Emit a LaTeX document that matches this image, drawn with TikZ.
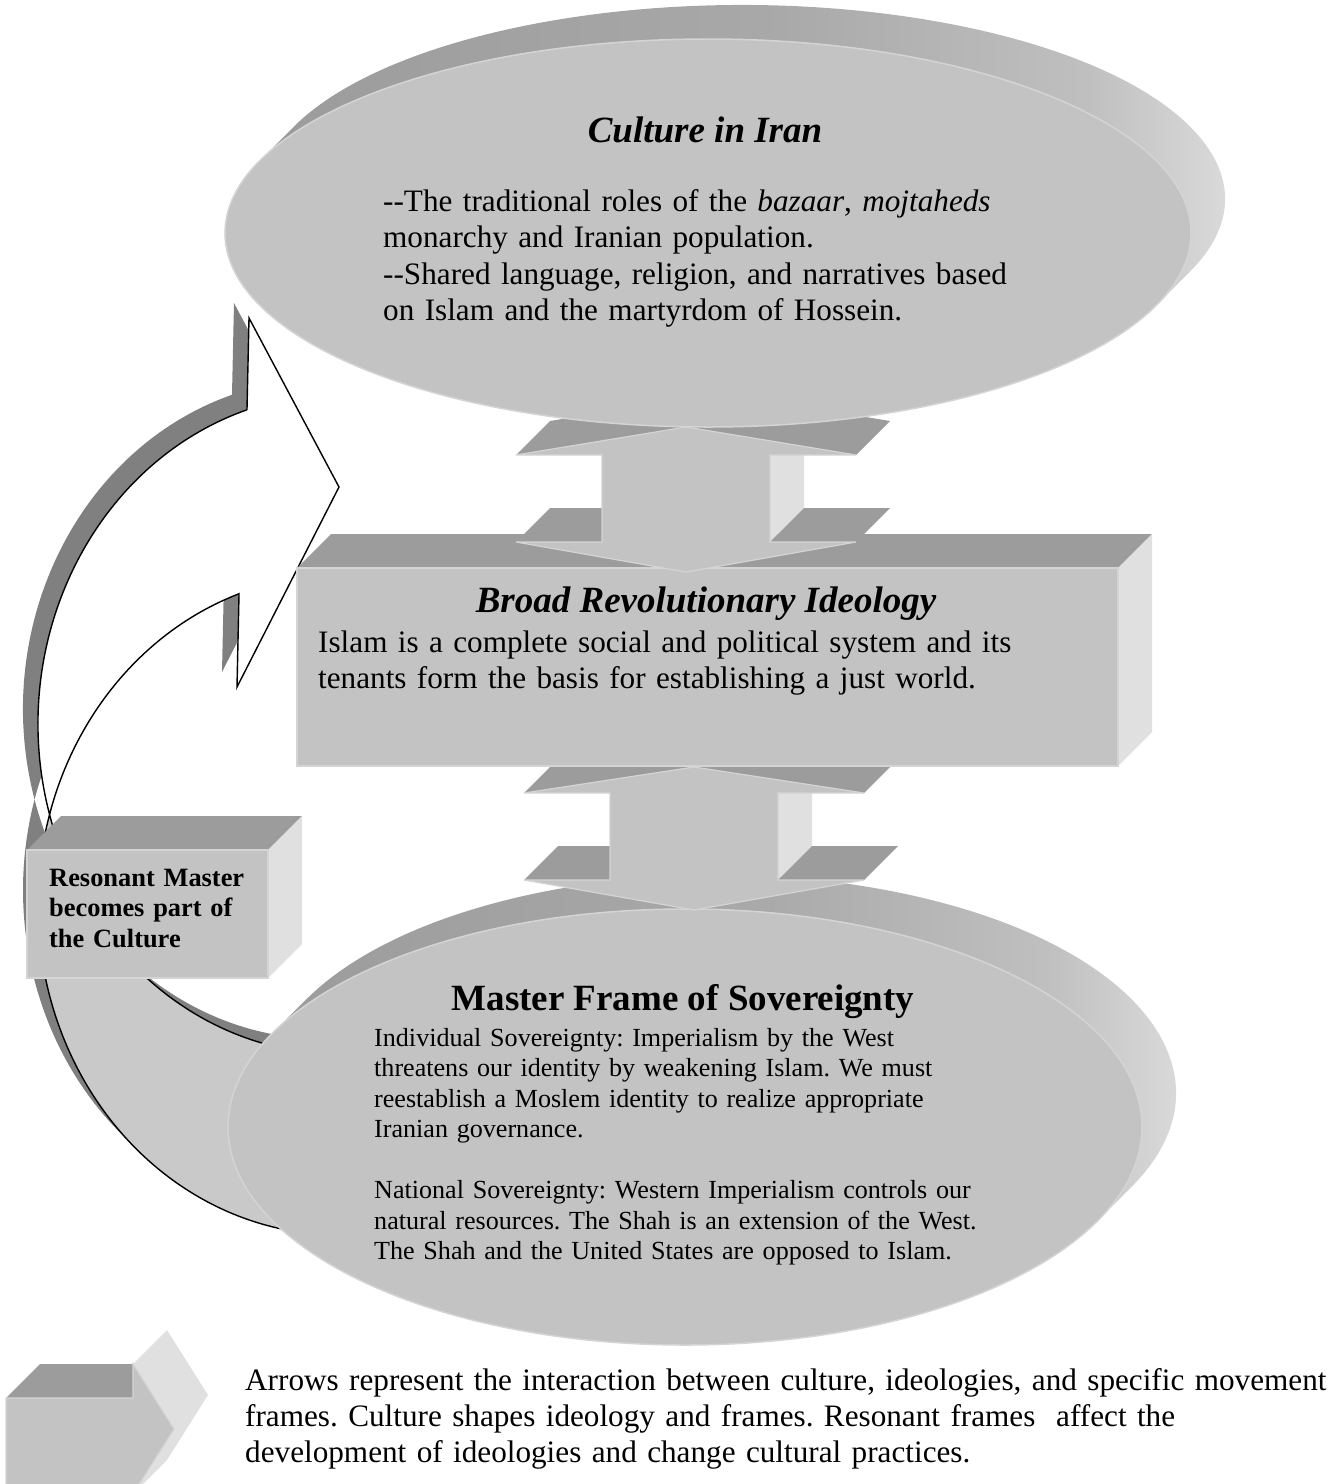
\documentclass[tikz,border=0pt]{standalone}
\usepackage{fontspec}
\setmainfont{Liberation Serif}
\usetikzlibrary{calc}

\definecolor{facegray}{gray}{0.765}
\definecolor{topgray}{gray}{0.61}
\definecolor{sidegray}{gray}{0.88}
\definecolor{rimgray}{gray}{0.83}
\definecolor{shadowgray}{gray}{0.5}
\definecolor{undergray}{gray}{0.79}
\definecolor{extA}{gray}{0.60}
\definecolor{extB}{gray}{0.66}
\definecolor{extC}{gray}{0.75}
\definecolor{extD}{gray}{0.90}

% extrusion band of the discs: dark on the left, light on the right
\pgfdeclarehorizontalshading{rimshade}{100bp}{color(0bp)=(extA); color(25bp)=(extA); color(52bp)=(extB); color(66bp)=(extC); color(75bp)=(extD); color(100bp)=(extD)}

% curved arrow: two equal ellipses, centres (339,724) and (339,905)
\newcommand\bandoutline{([shift={(339,724)}]252.2:301 and 330) -- (249,318) -- (339,487) -- (237,687) -- ([shift={(339,905)}]250.6:301 and 330) arc[start angle=250.6, end angle=195.92, x radius=301, y radius=330] arc[start angle=164.08, end angle=252.2, x radius=301, y radius=330] -- cycle}
\newcommand\underoutline{([shift={(339,905)}]195.92:301 and 330) arc[start angle=195.92, end angle=90, x radius=301, y radius=330] -- ([shift={(339,724)}]90:301 and 330) arc[start angle=90, end angle=164.08, x radius=301, y radius=330] -- cycle}

% box with top and right faces: front corners (#1,#2) and (#3,#4)
\newcommand\slab[4]{%
  \fill[topface] (#1,#2) -- (#3,#2) -- ++(34,-34) -- (#1+34,#2-34) -- cycle;
  \fill[sideface] (#3,#2) -- ++(34,-34) -- (#3+34,#4-34) -- (#3,#4) -- cycle;
  \filldraw[frontface] (#1,#2) rectangle (#3,#4);
}

% up-down arrow: shaft centre #1, upper tip #2, upper head base #3,
% lower head base #4, lower tip #5
\newcommand\updown[5]{%
  \fill[sideface] (#1+84,#3) -- ++(34,-34) -- (#1+118,#4-34) -- (#1+84,#4) -- cycle;
  \fill[topface] (#1-170,#3) -- (#1,#2) -- ++(34,-34) -- (#1-136,#3-34) -- cycle;
  \fill[topface] (#1,#2) -- (#1+170,#3) -- ++(34,-34) -- (#1+34,#2-34) -- cycle;
  \fill[topface] (#1-170,#4) -- (#1-84,#4) -- ++(34,-34) -- (#1-136,#4-34) -- cycle;
  \fill[topface] (#1+84,#4) -- (#1+170,#4) -- ++(34,-34) -- (#1+118,#4-34) -- cycle;
  \filldraw[frontface] (#1,#2) -- (#1+170,#3) -- (#1+84,#3) -- (#1+84,#4) -- (#1+170,#4)
     -- (#1,#5) -- (#1-170,#4) -- (#1-84,#4) -- (#1-84,#3) -- (#1-170,#3) -- cycle;
}

\begin{document}
\frenchspacing
\begin{tikzpicture}[x=1pt, y=1pt, yscale=-1,
  frontface/.style={fill=facegray, draw=rimgray, line width=1.2},
  topface/.style={fill=topgray},
  sideface/.style={fill=sidegray},
  outline/.style={draw=black, line width=1.4, line join=miter},
  bodytext/.style={inner sep=0pt, align=left, anchor=base west,
    font=\fontsize{31.2}{36.5}\selectfont},
  smalltext/.style={inner sep=0pt, align=left, anchor=base west,
    font=\fontsize{26.1}{30.5}\selectfont},
  headtext/.style={inner sep=0pt, anchor=base,
    font=\fontsize{37}{40}\selectfont\bfseries\itshape}]

\useasboundingbox (0,0) rectangle (1341,1484);
\clip (0,0) rectangle (1341,1484);

% ---------- curved feedback arrow ----------
\begin{scope}[shift={(-15,-15)}]
  \fill[shadowgray] \underoutline;
  \fill[shadowgray] \bandoutline;
\end{scope}
\filldraw[fill=undergray, outline] \underoutline;
\filldraw[fill=white, outline] \bandoutline;

% ---------- Master Frame of Sovereignty (lower disc) ----------
\shade[shading=rimshade] ([shift={(685,1127)}]205.5:457 and 218)
  -- ([shift={(719,1093)}]205.5:457 and 218)
  arc[start angle=205.5, end angle=385.5, x radius=457, y radius=218]
  -- ([shift={(685,1127)}]25.5:457 and 218)
  arc[start angle=25.5, end angle=205.5, x radius=457, y radius=218] -- cycle;
\filldraw[fill=facegray, draw=rimgray, line width=1.5] (685,1127) ellipse[x radius=457, y radius=218];

\node[inner sep=0pt, anchor=base, font=\fontsize{37}{40}\selectfont\bfseries]
  (mastertitle) at (683,1010) {Master Frame of Sovereignty};
\node[smalltext, text width=760] (masterbody) at (374,1046)
  {Individual Sovereignty: Imperialism by the West\\
   threatens our identity by weakening Islam. We must\\
   reestablish a Moslem identity to realize appropriate\\
   Iranian governance.\\[30.5pt]
   National Sovereignty: Western Imperialism controls our\\
   natural resources. The Shah is an extension of the West.\\
   The Shah and the United States are opposed to Islam.};

% ---------- lower up-down arrow ----------
\updown{694}{767}{793}{880}{910}

% ---------- Broad Revolutionary Ideology (box) ----------
\slab{297}{568}{1118}{766}

% ---------- upper up-down arrow ----------
\updown{686}{427}{455}{542}{572}

\node[headtext] (ideotitle) at (706,612) {Broad Revolutionary Ideology};
\node[bodytext, text width=900] (ideobody) at (318,652)
  {Islam is a complete social and political system and its\\
   tenants form the basis for establishing a just world.};

% ---------- Culture in Iran (upper disc) ----------
\shade[shading=rimshade] ([shift={(708,233)}]201.88:483 and 194)
  -- ([shift={(742,199)}]201.88:483 and 194)
  arc[start angle=201.88, end angle=381.88, x radius=483, y radius=194]
  -- ([shift={(708,233)}]21.88:483 and 194)
  arc[start angle=21.88, end angle=201.88, x radius=483, y radius=194] -- cycle;
\filldraw[fill=facegray, draw=rimgray, line width=1.5] (708,233) ellipse[x radius=483, y radius=194];

\node[headtext] (culturetitle) at (705,142) {Culture in Iran};
\node[bodytext, text width=800] (culturebody) at (383,211)
  {-{}-The traditional roles of the \textit{bazaar}, \textit{mojtaheds}\\
   monarchy and Iranian population.\\
   -{}-Shared language, religion, and narratives based\\
   on Islam and the martyrdom of Hossein.};

% ---------- Resonant Master box ----------
\slab{27}{850}{268}{978}
\node[smalltext, text width=260, font=\fontsize{26.4}{30.5}\selectfont\bfseries]
  (resonant) at (49,886) {Resonant Master\\becomes part of\\the Culture};

% ---------- legend ----------
\fill[sideface] (133,1364) -- (174,1429) -- (208,1395) -- (167,1330) -- cycle;
\fill[sideface] (174,1429) -- (133,1494) -- (167,1460) -- (208,1395) -- cycle;
\fill[topface] (6,1398) -- (40,1364) -- (133,1364) -- (133,1398) -- cycle;
\filldraw[frontface] (6,1398) -- (133,1398) -- (133,1364) -- (174,1429)
  -- (133,1494) -- (6,1494) -- cycle;

\node[bodytext, text width=1300, font=\fontsize{31.2}{36}\selectfont] (legend) at (245,1390)
  {Arrows represent the interaction between culture, ideologies, and specific movement\\
   frames. Culture shapes ideology and frames. Resonant frames~ affect the\\
   development of ideologies and change cultural practices.};

\end{tikzpicture}
\end{document}
